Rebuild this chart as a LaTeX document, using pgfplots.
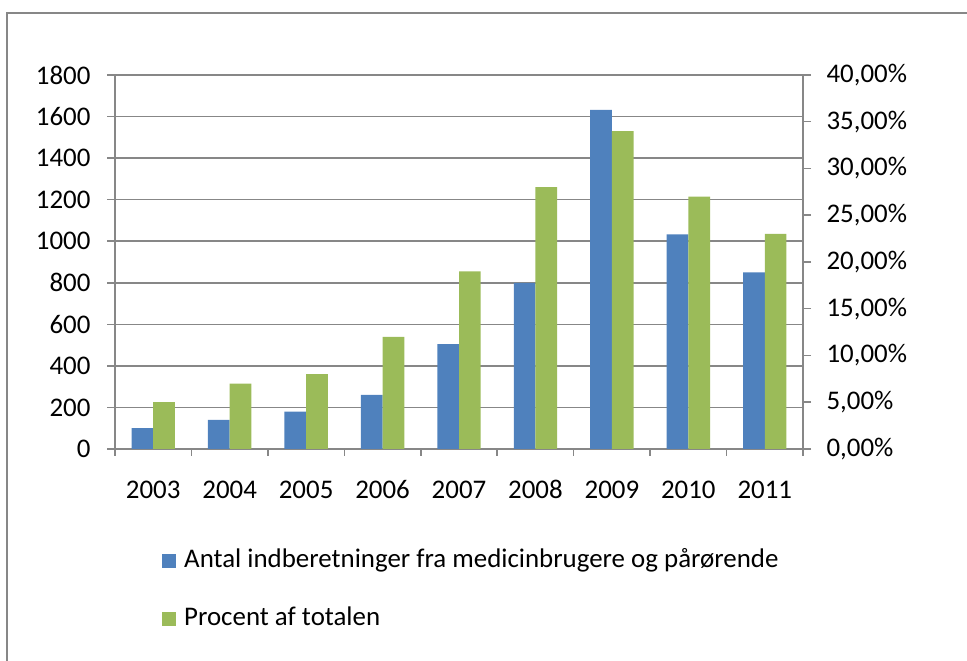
\documentclass[border=0pt]{standalone}
\usepackage{pgfplots}
\pgfplotsset{compat=1.18}
\usepackage{fontspec}
\setmainfont{Carlito}

\definecolor{barblue}{HTML}{4F81BD}
\definecolor{bargreen}{HTML}{9BBB59}
\definecolor{linegray}{HTML}{878787}

\newcommand{\lblfont}{\fontsize{27}{32}\selectfont}

\pgfplotsset{
  chartbase/.style={
    scale only axis,
    width=688bp, height=374bp,
    at={(115bp,212bp)}, anchor=south west,
    xmin=-0.5, xmax=8.5,
    ymin=0,
    ybar, bar width=21.7bp,
    /pgf/number format/assume math mode=true,
    /pgf/number format/1000 sep={},
    tick align=outside,
    major tick length=8bp,
    minor tick length=7bp,
    every tick/.style={linegray, line width=1.5bp},
    axis line style={linegray, line width=1.5bp},
    ticklabel style={font=\lblfont},
  },
}

\begin{document}
\begin{tikzpicture}[x=1bp,y=1bp]
\useasboundingbox (0,0) rectangle (967,661);
% outer chart frame
\draw[linegray, line width=2bp] (7,0) -- (7,648) -- (967,648);

% counts on the primary (left) axis
\begin{axis}[
  chartbase,
  ymax=1800, ytick={0,200,...,1800},
  axis x line*=bottom, axis y line*=left,
  ymajorgrids, grid style={linegray, line width=1.5bp},
  xtick={0,...,8},
  xticklabels={2003,2004,2005,2006,2007,2008,2009,2010,2011},
  major x tick style={draw=none},
  minor xtick={-0.5,0.5,...,8.5},
  xticklabel style={anchor=base, yshift=-42bp},
  yticklabel style={xshift=-13bp},
  bar shift=-10.85bp,
]
\addplot[fill=barblue, draw=none] coordinates {
  (0,100) (1,140) (2,180) (3,260) (4,505)
  (5,800) (6,1632) (7,1033) (8,850)
};
\end{axis}

% share of total on the secondary (right) axis
\begin{axis}[
  chartbase,
  ymax=40, ytick={0,5,...,40},
  yticklabels={{0,00\%},{5,00\%},{10,00\%},{15,00\%},{20,00\%},{25,00\%},{30,00\%},{35,00\%},{40,00\%}},
  yticklabel style={xshift=12bp},
  axis y line*=right, axis x line=none,
  bar shift=10.85bp,
  legend image code/.code={\path[#1, draw=none] (0bp,-7bp) rectangle (14bp,7bp);},
  legend style={
    draw=none, fill=none, inner sep=0pt,
    at={(axis description cs:0.0683,-0.2674)}, anchor=north west,
    font=\lblfont, row sep=34bp,
    nodes={inner sep=0pt, text height=18bp, text depth=6bp},
    /tikz/every odd column/.append style={column sep=8bp},
  },
  legend cell align=left,
]
\addlegendimage{fill=barblue, draw=none}
\addlegendentry{Antal indberetninger fra medicinbrugere og pårørende}
\addplot[fill=bargreen, draw=none] coordinates {
  (0,5) (1,7) (2,8) (3,12) (4,19)
  (5,28) (6,34) (7,27) (8,23)
};
\addlegendentry{Procent af totalen}
\end{axis}
\end{tikzpicture}
\end{document}
